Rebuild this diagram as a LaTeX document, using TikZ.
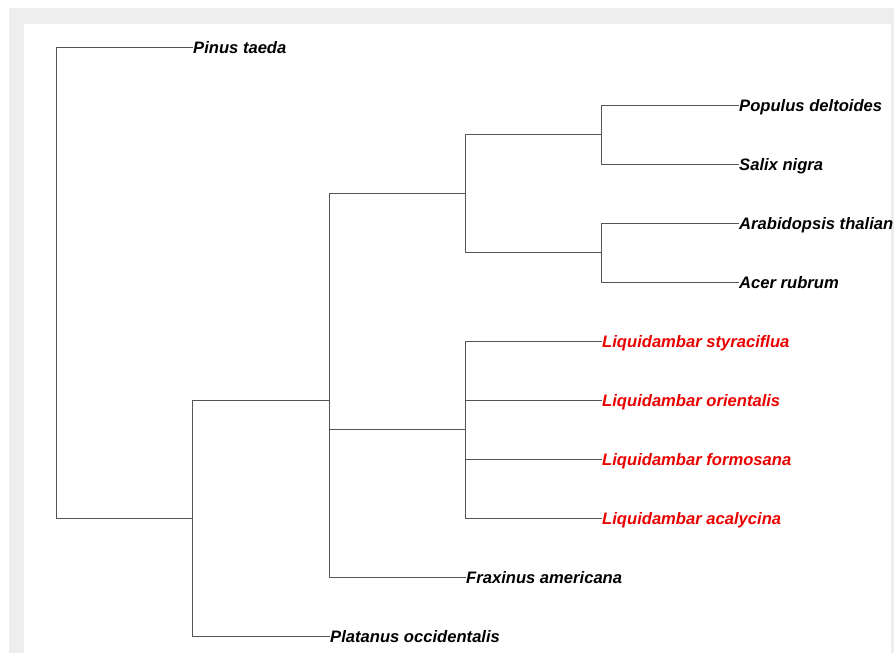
\documentclass[tikz,border=0pt]{standalone}
\usepackage{fontspec}
\setmainfont{Liberation Sans}
\definecolor{bgray}{RGB}{238,238,238}
\definecolor{edge}{RGB}{85,85,85}
\definecolor{hl}{RGB}{235,0,0}
\tikzset{
  branch/.style={draw=edge, line width=0.9pt},
  leaf/.style={anchor=west, inner sep=0pt, text height=12pt, text depth=0pt,
    font=\fontsize{16.6}{20}\selectfont\bfseries\itshape, xshift=1pt},
  redleaf/.style={leaf, text=hl}
}
\begin{document}
\begin{tikzpicture}[x=1pt, y=-1pt]
\useasboundingbox (0,0) rectangle (894,653);
\fill[bgray] (9,8) rectangle (894,653);
\fill[white] (24,24) rectangle (891,653);

% internal nodes
\coordinate (root) at (56,282.5);
\coordinate (A) at (192,518);
\coordinate (B) at (329,400);
\coordinate (C) at (465,193.5);
\coordinate (D) at (465,429.5);
\coordinate (E) at (601,134.5);
\coordinate (F) at (601,252.5);

% leaves
\node[leaf] (pinus) at (192,47) {Pinus taeda};
\node[leaf] (populus) at (738,105) {Populus deltoides};
\node[leaf] (salix) at (738,164) {Salix nigra};
\node[leaf] (arab) at (738,223) {Arabidopsis thalian};
\node[leaf] (acer) at (738,282) {Acer rubrum};
\node[redleaf] (lsty) at (601,341) {Liquidambar styraciflua};
\node[redleaf] (lori) at (601,400) {Liquidambar orientalis};
\node[redleaf] (lfor) at (601,459) {Liquidambar formosana};
\node[redleaf] (laca) at (601,518) {Liquidambar acalycina};
\node[leaf] (frax) at (465,577) {Fraxinus americana};
\node[leaf] (plat) at (329,636) {Platanus occidentalis};

% connectors
\draw[branch] (root) |- (pinus.west);
\draw[branch] (root) |- (A);
\draw[branch] (A) |- (B);
\draw[branch] (A) |- (plat.west);
\draw[branch] (B) |- (C);
\draw[branch] (B) |- (D);
\draw[branch] (B) |- (frax.west);
\draw[branch] (C) |- (E);
\draw[branch] (C) |- (F);
\draw[branch] (E) |- (populus.west);
\draw[branch] (E) |- (salix.west);
\draw[branch] (F) |- (arab.west);
\draw[branch] (F) |- (acer.west);
\draw[branch] (D) |- (lsty.west);
\draw[branch] (D) |- (lori.west);
\draw[branch] (D) |- (lfor.west);
\draw[branch] (D) |- (laca.west);
\end{tikzpicture}
\end{document}
